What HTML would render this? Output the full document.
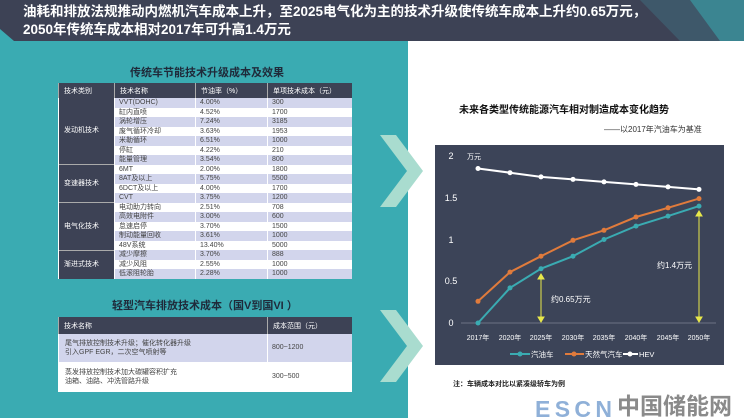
<!DOCTYPE html>
<html><head><meta charset="utf-8"><style>
*{margin:0;padding:0;box-sizing:border-box}
body{width:744px;height:418px;position:relative;overflow:hidden;background:#fff;font-family:"Liberation Sans","Noto Sans CJK SC",sans-serif}
.bar{position:absolute;left:0;top:0;width:744px;height:41px;background:#3d4255}
.tt{position:absolute;left:23px;top:3px;color:#fff;font-weight:bold;font-size:13.5px;line-height:18px;white-space:nowrap}
.teal{position:absolute;left:0;top:41px;width:408px;height:377px;background:#3aabb2}
.h{position:absolute;font-weight:bold;color:#1f2a3a;font-size:11px;white-space:nowrap}
table{position:absolute;border-collapse:collapse;font-size:7px;color:#444}
td{padding:0 0 0 4px;border-left:1px solid #fff;white-space:nowrap;line-height:9.5px;height:9.5px}
th{background:#3d4255;color:#fff;text-align:left;font-weight:normal;padding-left:5px;height:15px;border-left:1px solid #aaa}
.c1{background:#3d4255;color:#fff;padding-left:5px}
.a td{background:#d2d5ec}.b td{background:#fff}
.a td.c1,.b td.c1{background:#3d4255}
</style></head><body>
<div class="bar"></div>
<svg style="position:absolute;left:0;top:0" width="744" height="41">
<polygon points="0,29 14,41 0,41" fill="#3aabb2"/>
<polygon points="640,0 680,41 744,41 744,0" fill="#3f6d80" opacity="0.5"/>
<polygon points="690,0 720,41 744,41 744,0" fill="#3aa4ac" opacity="0.6"/>
</svg>
<div class="tt">油耗和排放法规推动内燃机汽车成本上升，至2025电气化为主的技术升级使传统车成本上升约0.65万元，<br>2050年传统车成本相对2017年可升高1.4万元</div>
<div class="teal"></div>
<svg style="position:absolute;left:378px;top:130px" width="48" height="260">
<polygon points="2,5 18,5 45,41 18,77 2,77 29,41" fill="#a9dccf"/>
<polygon points="2,180 18,180 45,216 18,252 2,252 29,216" fill="#a9dccf"/>
</svg>
<div class="h" style="left:130px;top:64px">传统车节能技术升级成本及效果</div>
<table style="left:58px;top:83px;width:294px">
<tr><th style="width:56px">技术类别</th><th style="width:81px">技术名称</th><th style="width:72px">节油率（%）</th><th>单项技术成本（元）</th></tr>
<tr class="a"><td class="c1" rowspan="7">发动机技术</td><td>VVT(DOHC)</td><td>4.00%</td><td>300</td></tr>
<tr class="b"><td>缸内直喷</td><td>4.52%</td><td>1700</td></tr>
<tr class="a"><td>涡轮增压</td><td>7.24%</td><td>3185</td></tr>
<tr class="b"><td>废气循环冷却</td><td>3.63%</td><td>1953</td></tr>
<tr class="a"><td>米勒循环</td><td>6.51%</td><td>1000</td></tr>
<tr class="b"><td>停缸</td><td>4.22%</td><td>210</td></tr>
<tr class="a"><td>能量管理</td><td>3.54%</td><td>800</td></tr>
<tr class="b"><td class="c1" rowspan="4" style="border-top:1px solid #aaa">变速器技术</td><td>6MT</td><td>2.00%</td><td>1800</td></tr>
<tr class="a"><td>8AT及以上</td><td>5.75%</td><td>5500</td></tr>
<tr class="b"><td>6DCT及以上</td><td>4.00%</td><td>1700</td></tr>
<tr class="a"><td>CVT</td><td>3.75%</td><td>1200</td></tr>
<tr class="b"><td class="c1" rowspan="5" style="border-top:1px solid #aaa">电气化技术</td><td>电动助力转向</td><td>2.51%</td><td>708</td></tr>
<tr class="a"><td>高效电附件</td><td>3.00%</td><td>600</td></tr>
<tr class="b"><td>怠速启停</td><td>3.70%</td><td>1500</td></tr>
<tr class="a"><td>制动能量回收</td><td>3.61%</td><td>1000</td></tr>
<tr class="b"><td>48V系统</td><td>13.40%</td><td>5000</td></tr>
<tr class="a"><td class="c1" rowspan="3" style="border-top:1px solid #aaa">渐进式技术</td><td>减少摩擦</td><td>3.70%</td><td>888</td></tr>
<tr class="b"><td>减少风阻</td><td>2.55%</td><td>1000</td></tr>
<tr class="a"><td>低滚阻轮胎</td><td>2.28%</td><td>1000</td></tr>
</table>
<div class="h" style="left:112px;top:297px">轻型汽车排放技术成本（国V到国VI ）</div>
<table style="left:58px;top:317px;width:294px">
<tr><th style="width:209px;height:17px">技术名称</th><th>成本范围（元）</th></tr>
<tr class="a"><td style="height:28px;line-height:9px;padding-left:6px">尾气排放控制技术升级；催化转化器升级<br>引入GPF EGR，二次空气喷射等</td><td>800~1200</td></tr>
<tr class="b"><td style="height:30px;line-height:9px;padding-left:6px">蒸发排放控制技术加大碳罐容积扩充<br>油箱、油路、冲洗管路升级</td><td>300~500</td></tr>
</table>
<div class="h" style="left:459px;top:101px;font-size:10px;color:#111">未来各类型传统能源汽车相对制造成本变化趋势</div>
<div style="position:absolute;left:604px;top:124px;font-size:8px;color:#333">——以2017年汽油车为基准</div>
<svg style="position:absolute;left:0;top:0" width="744" height="418" font-family="Liberation Sans,Noto Sans CJK SC,sans-serif">
<rect x="435" y="145" width="289" height="220" fill="#3c4458"/>
<line x1="461" y1="323" x2="716" y2="323" stroke="#6b7285" stroke-width="1"/>
<g fill="#fff" font-size="9" text-anchor="middle">
<text x="451" y="159">2</text><text x="451" y="201">1.5</text><text x="451" y="243">1</text><text x="451" y="284">0.5</text><text x="451" y="326">0</text>
</g>
<text x="467" y="159" fill="#fff" font-size="7">万元</text>
<g fill="#fff" font-size="7" text-anchor="middle">
<text x="478" y="340">2017年</text><text x="510" y="340">2020年</text><text x="541" y="340">2025年</text><text x="573" y="340">2030年</text><text x="604" y="340">2035年</text><text x="636" y="340">2040年</text><text x="668" y="340">2045年</text><text x="699" y="340">2050年</text>
</g>
<g stroke="#e8e84a" stroke-width="1" fill="#e8e84a">
<line x1="541" y1="276" x2="541" y2="320"/><polygon points="538,279 544,279 541,274"/><polygon points="538,317 544,317 541,322"/>
<line x1="699" y1="213" x2="699" y2="320"/><polygon points="696,216 702,216 699,211"/><polygon points="696,317 702,317 699,322"/>
</g>
<text x="551" y="302" fill="#fff" font-size="8">约0.65万元</text>
<text x="657" y="268" fill="#fff" font-size="8">约1.4万元</text>
<polyline fill="none" stroke="#fff" stroke-width="2" points="478,168.5 510,172.7 541,176.9 573,179.4 604,181.9 636,184.4 668,186.9 699,189.4"/>
<g fill="#fff"><circle cx="478" cy="168.5" r="2.5"/><circle cx="510" cy="172.7" r="2.5"/><circle cx="541" cy="176.9" r="2.5"/><circle cx="573" cy="179.4" r="2.5"/><circle cx="604" cy="181.9" r="2.5"/><circle cx="636" cy="184.4" r="2.5"/><circle cx="668" cy="186.9" r="2.5"/><circle cx="699" cy="189.4" r="2.5"/></g>
<polyline fill="none" stroke="#e07b3c" stroke-width="2" points="478,301.3 510,272.1 541,256.2 573,240.3 604,230.3 636,217 668,207.8 699,198.6"/>
<g fill="#e07b3c"><circle cx="478" cy="301.3" r="2.5"/><circle cx="510" cy="272.1" r="2.5"/><circle cx="541" cy="256.2" r="2.5"/><circle cx="573" cy="240.3" r="2.5"/><circle cx="604" cy="230.3" r="2.5"/><circle cx="636" cy="217" r="2.5"/><circle cx="668" cy="207.8" r="2.5"/><circle cx="699" cy="198.6" r="2.5"/></g>
<polyline fill="none" stroke="#3aabb2" stroke-width="2" points="478,323 510,287.9 541,268.7 573,256.2 604,239.5 636,226.1 668,216.1 699,206.1"/>
<g fill="#3aabb2"><circle cx="478" cy="323" r="2.5"/><circle cx="510" cy="287.9" r="2.5"/><circle cx="541" cy="268.7" r="2.5"/><circle cx="573" cy="256.2" r="2.5"/><circle cx="604" cy="239.5" r="2.5"/><circle cx="636" cy="226.1" r="2.5"/><circle cx="668" cy="216.1" r="2.5"/><circle cx="699" cy="206.1" r="2.5"/></g>
<g font-size="7.5" fill="#fff">
<line x1="510" y1="354" x2="530" y2="354" stroke="#3aabb2" stroke-width="2"/><circle cx="520" cy="354" r="2.5" fill="#3aabb2"/><text x="531" y="357">汽油车</text>
<line x1="565" y1="354" x2="584" y2="354" stroke="#e07b3c" stroke-width="2"/><circle cx="574" cy="354" r="2.5" fill="#e07b3c"/><text x="585" y="357">天然气汽车</text>
<line x1="623" y1="354" x2="638" y2="354" stroke="#fff" stroke-width="2"/><circle cx="630" cy="354" r="2.5" fill="#fff"/><text x="639" y="357">HEV</text>
</g>
<text x="453" y="386" font-size="7" font-weight="bold" fill="#222">注：车辆成本对比以紧凑级轿车为例</text>
<text x="535" y="417" font-size="23" font-weight="bold" fill="#8fb0d8" textLength="77">ESCN</text>
<text x="617" y="414" font-size="23" font-weight="bold" fill="#8a8a8a">中国储能网</text>
</svg>
</body></html>
